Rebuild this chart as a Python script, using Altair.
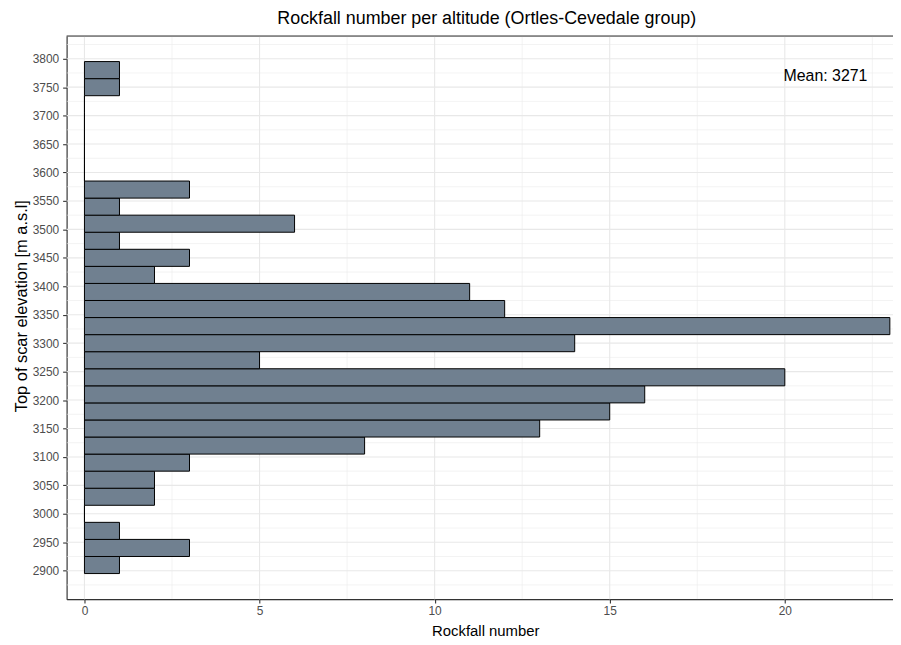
import altair as alt
import pandas as pd

title_text = "Rockfall number per altitude (Ortles-Cevedale group)"
x_title = "Rockfall number"
y_title = "Top of scar elevation [m a.s.l]"
mean_label = "Mean: 3271"

bin_width = 30
bin_lower = [2895, 2925, 2955, 2985, 3015, 3045, 3075, 3105, 3135, 3165,
             3195, 3225, 3255, 3285, 3315, 3345, 3375, 3405, 3435, 3465,
             3495, 3525, 3555, 3585, 3615, 3645, 3675, 3705, 3735, 3765]
counts = [1, 3, 1, 0, 2, 2, 3, 8, 13, 15,
          16, 20, 5, 14, 23, 12, 11, 2, 3, 1,
          6, 1, 3, 0, 0, 0, 0, 0, 1, 1]

x_major = [0, 5, 10, 15, 20]
x_minor = [2.5, 7.5, 12.5, 17.5, 22.5]
y_major = list(range(2900, 3801, 50))
y_minor = list(range(2875, 3826, 50))

PAD_L, PAD_T, PAD_R, PAD_B = 59, 26, 0, 44
W, H = 832, 567
XDOM = [-0.51, 23.09]
YDOM = [2850, 3840]
FONT = "Liberation Sans"

df = pd.DataFrame({
    "lo": bin_lower,
    "hi": [b + bin_width for b in bin_lower],
    "count": counts,
    "zero": [0] * len(counts),
})

xs = alt.Scale(domain=XDOM, nice=False, zero=False)
ys = alt.Scale(domain=YDOM, nice=False, zero=False)

x_axis = alt.Axis(values=x_major, grid=False, domainColor="#333333", domainWidth=1.1,
                  tickColor="#333333", tickSize=4, tickWidth=1.1, format="d",
                  labelColor="#4D4D4D", labelFontSize=12, labelFont=FONT, labelPadding=2,
                  title=None)
y_axis = alt.Axis(values=y_major, grid=False, domainColor="#333333", domainWidth=1.1,
                  tickColor="#333333", tickSize=4, tickWidth=1.1, format="d",
                  labelColor="#4D4D4D", labelFontSize=12, labelFont=FONT, labelPadding=4,
                  title=None)

X = lambda f: alt.X(f, scale=xs, axis=x_axis, title=None)
Y = lambda f: alt.Y(f, scale=ys, axis=y_axis, title=None)

minor_v = alt.Chart(pd.DataFrame({"v": x_minor})).mark_rule(color="#EBEBEB", strokeWidth=0.6, clip=True).encode(
    x=X("v:Q"), y=alt.value(0), y2=alt.value(H))
minor_h = alt.Chart(pd.DataFrame({"v": y_minor})).mark_rule(color="#EBEBEB", strokeWidth=0.6, clip=True).encode(
    y=Y("v:Q"), x=alt.value(0), x2=alt.value(W))
major_v = alt.Chart(pd.DataFrame({"v": x_major})).mark_rule(color="#E8E8E8", strokeWidth=1.1).encode(
    x=X("v:Q"), y=alt.value(0), y2=alt.value(H))
major_h = alt.Chart(pd.DataFrame({"v": y_major})).mark_rule(color="#E8E8E8", strokeWidth=1.1).encode(
    y=Y("v:Q"), x=alt.value(0), x2=alt.value(W))

bars = alt.Chart(df).mark_rect(fill="#708090", stroke="black", strokeWidth=1.0, clip=True).encode(
    y=Y("lo:Q"), y2="hi:Q", x=X("count:Q"), x2="zero:Q")

def label(txt, x, y, size, angle=0):
    return alt.Chart(pd.DataFrame({"t": [txt]})).mark_text(
        font=FONT, fontSize=size, color="black", align="center", baseline="middle",
        angle=angle).encode(text="t:N", x=alt.value(x), y=alt.value(y))

mean_txt = label(mean_label, 764, 40, 16)
title_txt = label(title_text, 423, -17, 18)
xtitle_txt = label(x_title, 422, H + 32, 15)
ytitle_txt = label(y_title, -45, 272, 16.5, angle=270)

top_border = alt.Chart(pd.DataFrame({"t": [0]})).mark_rule(color="#333333", strokeWidth=1.1).encode(
    x=alt.value(0), x2=alt.value(W), y=alt.value(0))

chart = alt.layer(minor_v, minor_h, major_v, major_h, bars, mean_txt, top_border,
                  title_txt, xtitle_txt, ytitle_txt).properties(
    width=W, height=H,
    padding={"left": PAD_L, "top": PAD_T, "right": PAD_R, "bottom": PAD_B},
    autosize=alt.AutoSizeParams(type="none"),
).configure_view(stroke=None).configure(background="white")

chart.save("out.html", embed_options={"renderer": "svg", "actions": False})
